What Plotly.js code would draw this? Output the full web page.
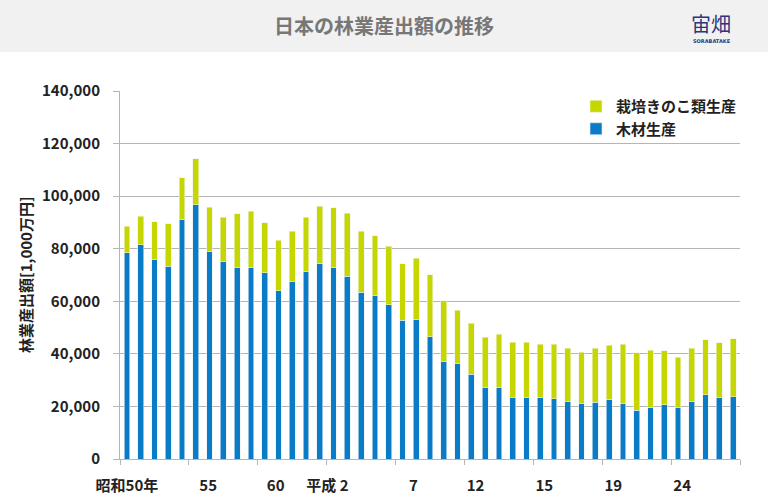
<!DOCTYPE html>
<html>
<head>
<meta charset="utf-8">
<script src="https://cdn.plot.ly/plotly-3.0.1.min.js"></script>
<style>
  html, body { margin: 0; padding: 0; background: #fff; }
  #chart { width: 768px; height: 502px; }
</style>
</head>
<body>
<div id="chart"></div>
<script>
// fiscal years, 昭和50 (1975) to 令和元 (2019)
const years = [
  1975, 1976, 1977, 1978, 1979, 1980, 1981, 1982, 1983, 1984,
  1985, 1986, 1987, 1988, 1989, 1990, 1991, 1992, 1993, 1994,
  1995, 1996, 1997, 1998, 1999, 2000, 2001, 2002, 2003, 2004,
  2005, 2006, 2007, 2008, 2009, 2010, 2011, 2012, 2013, 2014,
  2015, 2016, 2017, 2018, 2019
];

// 木材生産 (1,000万円)
const woodValues = [
  78500, 81500, 76000, 73400, 91200, 96700, 79100, 75000, 72900, 72900,
  70900, 64000, 67500, 71200, 74200, 72800, 69600, 63400, 62300, 58600,
  52700, 53000, 46600, 37200, 36200, 32300, 27300, 27300, 23400, 23400,
  23400, 23000, 21900, 21100, 21600, 22500, 21300, 18600, 19500, 20700,
  19700, 22000, 24500, 23400, 23700
];

// 栽培きのこ類生産 (1,000万円)
const mushroomValues = [
  10100, 10900, 14300, 16100, 15800, 17600, 16700, 17000, 20400, 21300,
  19000, 19300, 19200, 20800, 22000, 22800, 23800, 23300, 22700, 22400,
  21500, 23300, 23500, 23100, 20400, 19400, 19100, 20100, 21100, 21100,
  20300, 20600, 20300, 19600, 20600, 20800, 22300, 21800, 21900, 20400,
  19100, 20200, 20900, 20900, 22000
];

// x-axis labels as printed on the chart
const tickLabels = ["昭和50年", "55", "60", "平成 2", "7", "12", "15", "19", "24"];
const tickYears = [1975, 1980.9, 1985.8, 1989.55, 1995.8, 2000.3, 2005.3, 2010.3, 2015.3];

const fontFamily = "'Noto Sans CJK JP', 'Noto Sans', sans-serif";

// pixel helpers for the plot box (l=120, t=91, w=620, h=368)
const px = (x) => (x - 120) / 620;
const py = (y) => (459 - y) / 368;

const data = [
  {
    x: years,
    y: woodValues,
    type: "bar",
    name: "木材生産",
    marker: { color: "#0a7bc7", line: { color: "#e6eef2", width: 0.6 } },
    hoverinfo: "x+y+name",
  },
  {
    x: years,
    y: mushroomValues,
    type: "bar",
    name: "栽培きのこ類生産",
    marker: { color: "#c5d600", line: { color: "#eef2e0", width: 0.6 } },
    hoverinfo: "x+y+name",
  },
];

const layout = {
  width: 768,
  height: 502,
  margin: { l: 120, r: 28, t: 91, b: 43 },
  paper_bgcolor: "#ffffff",
  plot_bgcolor: "#ffffff",
  barmode: "stack",
  bargap: 0.58,
  font: { family: fontFamily, color: "#222" },
  title: {
    text: "日本の林業産出額の推移",
    font: { family: fontFamily, size: 20, color: "#777", weight: "bold" },
    xref: "container",
    x: 0.5,
    yref: "container",
    y: 0.946,
    yanchor: "middle",
  },
  shapes: [
    {
      type: "rect",
      xref: "paper",
      yref: "paper",
      x0: px(-10),
      x1: px(780),
      y0: py(52),
      y1: py(-10),
      fillcolor: "#f1f1f1",
      line: { width: 0 },
      layer: "below",
    },
  ],
  annotations: [
    {
      text: "宙畑",
      xref: "paper",
      yref: "paper",
      x: px(711),
      y: py(23),
      xanchor: "center",
      yanchor: "middle",
      showarrow: false,
      font: { family: fontFamily, size: 20, color: "#2b3580" },
    },
    {
      text: "SORABATAKE",
      xref: "paper",
      yref: "paper",
      x: px(712),
      y: py(41),
      xanchor: "center",
      yanchor: "middle",
      showarrow: false,
      font: { family: "DejaVu Sans", size: 5, color: "#2b3580", weight: "bold" },
    },
    {
      text: "林業産出額[1,000万円]",
      xref: "paper",
      yref: "paper",
      x: px(25),
      y: py(275),
      xanchor: "center",
      yanchor: "middle",
      textangle: -90,
      showarrow: false,
      font: { family: fontFamily, size: 15, color: "#222", weight: "bold" },
    },
  ],
  xaxis: {
    range: [1974.5, 2019.5],
    tickvals: tickYears,
    ticktext: tickLabels,
    ticks: "",
    ticklabelstandoff: 13,
    tickfont: { family: fontFamily, size: 15, color: "#222", weight: "bold" },
    showgrid: false,
    zeroline: false,
    showline: true,
    linecolor: "#b5b5b5",
    linewidth: 1,
    minor: {
      tick0: 1974.5,
      dtick: 5,
      ticks: "outside",
      ticklen: 5,
      tickcolor: "#b5b5b5",
      tickwidth: 1,
      showgrid: false,
    },
  },
  yaxis: {
    range: [0, 140000],
    dtick: 20000,
    tickformat: ",d",
    ticks: "outside",
    ticklen: 6,
    tickcolor: "#b5b5b5",
    ticklabelstandoff: 10,
    tickfont: { family: fontFamily, size: 15, color: "#222", weight: "bold" },
    showgrid: true,
    gridcolor: "#b5b5b5",
    gridwidth: 1,
    zeroline: false,
    showline: true,
    linecolor: "#b5b5b5",
    linewidth: 1,
  },
  showlegend: true,
  legend: {
    traceorder: "reversed",
    x: px(576),
    y: py(90),
    xanchor: "left",
    yanchor: "top",
    bgcolor: "rgba(255,255,255,0)",
    font: { family: fontFamily, size: 15, color: "#222", weight: "bold" },
    itemwidth: 30,
    tracegroupgap: 0,
  },
};

Plotly.newPlot("chart", data, layout, { displayModeBar: false });
</script>
</body>
</html>
